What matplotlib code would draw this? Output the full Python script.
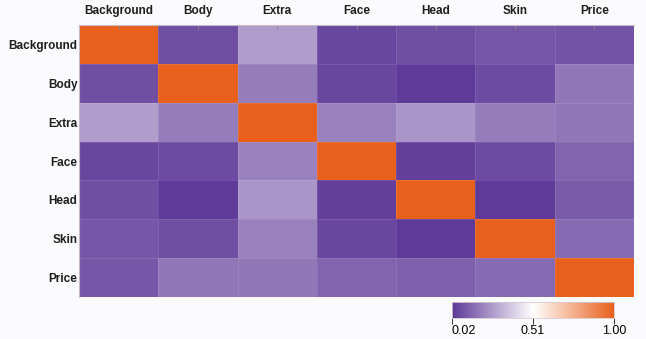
import matplotlib.pyplot as plt
import numpy as np
from matplotlib.colors import LinearSegmentedColormap

# Feature names and pairwise correlation values
labels = ["Background", "Body", "Extra", "Face", "Head", "Skin", "Price"]
corr = [
    [1.00, 0.08, 0.27, 0.06, 0.08, 0.10, 0.09],
    [0.08, 1.00, 0.19, 0.06, 0.03, 0.07, 0.18],
    [0.27, 0.19, 1.00, 0.20, 0.25, 0.19, 0.18],
    [0.06, 0.07, 0.20, 1.00, 0.04, 0.07, 0.13],
    [0.08, 0.03, 0.25, 0.04, 1.00, 0.03, 0.11],
    [0.10, 0.08, 0.20, 0.06, 0.03, 1.00, 0.15],
    [0.10, 0.18, 0.18, 0.13, 0.12, 0.15, 1.00],
]
cbar_ticks = [0.02, 0.51, 1.00]

cmap = LinearSegmentedColormap.from_list(
    "purple_orange", ["#5d3797", "#ffffff", "#e8601c"])

plt.rcParams["font.family"] = ["Liberation Sans", "DejaVu Sans"]

fig = plt.figure(figsize=(6.46, 3.39), dpi=100)
fig.patch.set_facecolor("#fbfbfd")
ax = fig.add_axes([79 / 646, 1 - 297 / 339, 555 / 646, 272 / 339])

data = np.array(corr)
mesh = ax.pcolormesh(data, cmap=cmap, vmin=0.02, vmax=1.00,
                     edgecolors=(1, 1, 1, 0.1), linewidth=0.6)
ax.set_xlim(0, len(labels))
ax.set_ylim(len(labels), 0)

ax.xaxis.tick_top()
ax.set_xticks(np.arange(len(labels)) + 0.5)
ax.set_xticklabels(labels, fontsize=8.5, fontweight="bold", color="#1e1e1e")
ax.set_yticks(np.arange(len(labels)) + 0.5)
ax.set_yticklabels(labels, fontsize=8.5, fontweight="bold", color="#1e1e1e")
ax.tick_params(axis="x", length=3, width=0.6, color="#888888", pad=6, direction="in")
ax.tick_params(axis="y", length=0, pad=1)
for side in ["right", "bottom"]:
    ax.spines[side].set_visible(False)
for side in ["left", "top"]:
    ax.spines[side].set_color("#c8b8c8")
    ax.spines[side].set_linewidth(0.8)

# Horizontal colour scale below the grid
cax = fig.add_axes([452 / 646, 1 - 318 / 339, 162 / 646, 16 / 339])
cb = fig.colorbar(mesh, cax=cax, orientation="horizontal", ticks=cbar_ticks)
cb.ax.set_xticklabels(["0.02", "0.51", "1.00"])
cb.ax.tick_params(labelsize=9, length=4, width=0.7, color="#333333", pad=1)
tl = cb.ax.get_xticklabels()
tl[0].set_horizontalalignment("left")
cb.outline.set_edgecolor("#d8c8d0")
cb.outline.set_linewidth(0.6)

plt.savefig("out.png", dpi=100, facecolor=fig.get_facecolor())
